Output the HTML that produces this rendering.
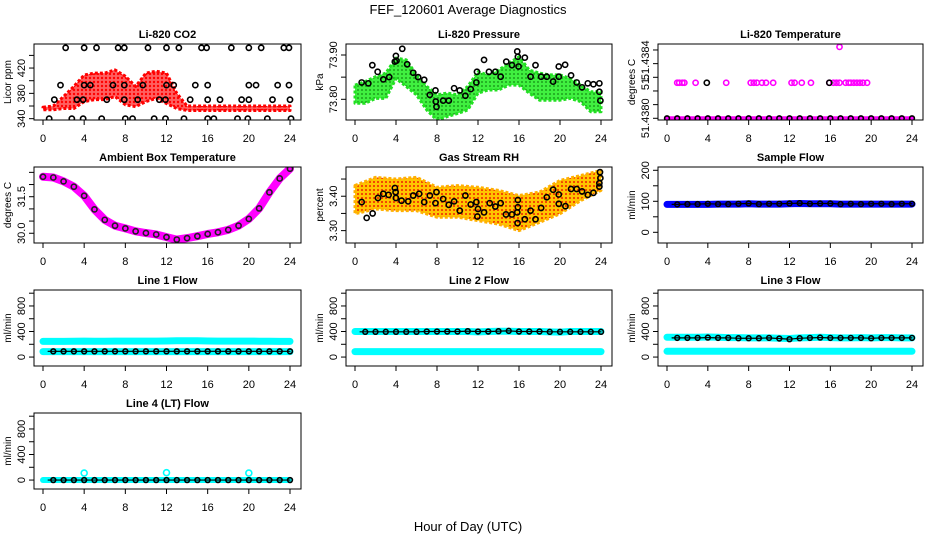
<!DOCTYPE html>
<html><head><meta charset="utf-8"><style>
html,body{margin:0;padding:0;background:#fff;}
svg{display:block;font-family:"Liberation Sans",sans-serif;}
</style></head><body>
<svg id="chart" width="936" height="540" viewBox="0 0 936 540" xmlns="http://www.w3.org/2000/svg">
<defs>
<pattern id="pat-red" width="4" height="4" patternUnits="userSpaceOnUse"><rect width="4" height="4" fill="#ff6060"/><circle cx="2" cy="2" r="1.2" fill="#ff0000"/></pattern>
<pattern id="pat-green" width="4" height="4" patternUnits="userSpaceOnUse"><rect width="4" height="4" fill="#40f040"/><circle cx="2" cy="2" r="0.9" fill="#118811"/></pattern>
<pattern id="pat-orange" width="4" height="4" patternUnits="userSpaceOnUse"><rect width="4" height="4" fill="#ffc400"/><circle cx="2" cy="2" r="1" fill="#f02000"/></pattern>
</defs>
<text x="468" y="14" text-anchor="middle" font-size="13">FEF_120601  Average Diagnostics</text>
<text x="468" y="531" text-anchor="middle" font-size="13">Hour of Day (UTC)</text>
</svg>
<script>
// ---------- data ----------
const hours25 = [0,1,2,3,4,5,6,7,8,9,10,11,12,13,14,15,16,17,18,19,20,21,22,23,24];
const co2BandLo = [354,354,356,356,367,370,370,375,362,359,367,372,364,356,353,353,353,353,353,353,353,353,353,353,353];
const co2BandHi = [358,360,375,391,409,412,412,417,407,391,412,415,412,380,360,360,360,360,360,360,360,360,360,360,360];
const co2BlackHours = [2.2,4.0,5.2,7.3,7.9,10.2,12.0,13.2,15.4,15.9,18.3,20.0,21.2,23.4,23.9, 1.7,4.0,4.6,6.8,7.9,9.7,12.0,12.7,14.8,16.0,20.0,20.7,22.8,23.9, 1.1,3.3,3.9,6.2,7.9,9.2,11.3,11.9,14.3,16.0,17.2,19.3,20.0,22.3,24.0, 0.6,2.8,3.9,5.7,8.0,8.7,10.8,11.9,13.7,16.0,16.6,18.9,19.9,21.8,24.1];
const co2BlackVals = [452,452,452,452,452,452,452,452,452,452,452,452,452,452,452, 393,393,393,393,393,393,393,393,393,393,393,393,393,393, 370,370,370,370,370,370,370,370,370,370,370,370,370,370,370, 340,340,340,340,340,340,340,340,340,340,340,340,340,340,340];

const presBandLo = [73.791,73.791,73.802,73.802,73.847,73.829,73.810,73.776,73.753,73.761,73.768,73.776,73.814,73.821,73.821,73.832,73.832,73.814,73.798,73.798,73.798,73.802,73.795,73.772,73.772];
const presBandHi = [73.832,73.840,73.851,73.859,73.893,73.889,73.855,73.829,73.810,73.814,73.810,73.829,73.862,73.855,73.866,73.881,73.896,73.866,73.859,73.855,73.855,73.847,73.832,73.817,73.817];
const presBlackHours = [0.65,1.30,1.69,2.21,2.76,3.34,3.89,3.99,4.05,4.61,5.09,5.68,6.16,6.75,7.30,7.85,7.88,7.95,8.60,9.15,9.67,10.22,10.77,11.29,11.84,11.90,12.59,13.07,13.69,14.21,14.76,15.31,15.83,15.89,15.96,16.57,17.13,17.61,18.16,18.71,19.33,19.88,19.88,20.5,21.08,21.63,22.15,22.71,23.26,23.84,23.84,23.94];
const presBlackVals = [73.838,73.836,73.877,73.862,73.845,73.850,73.885,73.898,73.887,73.914,73.879,73.860,73.850,73.844,73.810,73.820,73.795,73.783,73.797,73.797,73.825,73.820,73.808,73.823,73.838,73.862,73.889,73.862,73.862,73.851,73.885,73.877,73.908,73.896,73.874,73.894,73.851,73.877,73.851,73.851,73.840,73.874,73.851,73.878,73.854,73.838,73.827,73.836,73.834,73.836,73.817,73.797];

const tempMidHours = [1.0,1.2,1.5,1.7,2.8,5.8,8.2,8.5,8.8,9.3,9.7,10.4,12.2,12.5,13.2,14.1,15.9,16.3,16.6,16.9,17.5,17.8,18.0,18.3,18.6,18.9,19.2,19.6];
const tempMidVal = 51.438208;
const tempLowVal = 51.43800;
const tempTopHours = [16.9];
const tempTopVals = [51.438418];
const tempBlackMidHours = [3.9,15.9];

const ambientVals = [32.32,32.29,32.13,31.91,31.54,30.98,30.55,30.31,30.20,30.08,30.01,29.95,29.84,29.74,29.80,29.88,29.97,30.04,30.14,30.31,30.59,31.02,31.68,32.25,32.65];

const rhBandHours = [0,2,4,6,8,10,12,14,16,18,20,22,24];
const rhBandLo = [3.349,3.363,3.358,3.358,3.339,3.339,3.329,3.319,3.300,3.324,3.349,3.387,3.417];
const rhBandHi = [3.431,3.455,3.450,3.455,3.426,3.431,3.426,3.417,3.402,3.412,3.446,3.460,3.475];
const rhBlackHours = [0.65,1.14,1.72,2.24,2.76,3.28,3.89,3.96,3.99,4.54,5.19,5.68,6.26,6.75,7.30,7.85,7.95,8.60,9.15,9.67,10.22,10.77,11.29,11.84,11.94,12.0,12.59,13.14,13.69,14.21,14.73,15.31,15.83,15.89,15.89,15.86,16.57,17.13,17.61,18.16,18.71,19.33,19.88,19.88,20.53,21.08,21.63,22.15,22.71,23.26,23.84,23.84,23.94,23.9];
const rhBlackVals = [3.383,3.337,3.350,3.395,3.407,3.404,3.424,3.412,3.395,3.387,3.385,3.402,3.407,3.383,3.402,3.380,3.412,3.392,3.375,3.385,3.358,3.402,3.376,3.383,3.341,3.363,3.353,3.380,3.370,3.380,3.347,3.347,3.353,3.368,3.389,3.322,3.333,3.358,3.333,3.366,3.397,3.419,3.405,3.378,3.371,3.421,3.421,3.414,3.404,3.410,3.428,3.438,3.453,3.470];

const sampleBlue = [90,90,90,90,90,91,91,91,92,91,91,91,92,93,92,92,92,91,91,91,91,91,91,91,91];
const sampleBlack = [90,90,91,91,92,91,91,92,93,91,92,92,93,94,92,93,93,91,92,91,92,92,91,92,92];

const line1CyanHi = [245,245,245,248,250,248,248,250,250,250,250,250,252,255,255,255,252,250,250,250,250,248,248,245,245];
const line1CyanLo = [85,85,85,85,85,85,85,85,85,85,85,85,85,85,85,85,85,85,85,85,85,85,85,85,85];
const line1Black = [90,90,90,90,90,90,90,90,90,90,90,90,90,90,90,90,90,90,90,90,90,90,90,90,90];

const line2CyanHi = [400,400,400,400,400,400,400,400,400,400,400,400,395,400,405,405,400,400,400,395,390,400,400,400,400];
const line2CyanLo = [85,85,85,85,85,85,85,85,85,85,85,85,85,85,85,85,85,85,85,85,85,85,85,85,85];
const line2Black = [395,395,395,395,395,395,395,400,400,400,400,405,400,400,405,410,400,400,400,395,395,395,395,395,395];

const line3CyanHi = [310,310,310,310,315,310,305,305,300,300,300,295,290,300,305,310,305,300,300,305,300,305,305,300,300];
const line3CyanLo = [90,90,90,90,90,90,90,90,90,90,90,90,90,90,90,90,90,90,90,90,90,90,90,90,90];
const line3Black = [300,300,300,300,305,300,300,295,295,295,300,290,280,295,300,305,300,300,300,300,295,300,300,300,300];

const line4CyanHours = [4.0,12.0,20.0];
const line4CyanSpikes = [110,115,110];
const line4Cyan = [0,0,0,0,0,0,0,0,0,0,0,0,0,0,0,0,0,0,0,0,0,0,0,0,0];
const line4Black = [0,0,0,0,0,0,0,0,0,0,0,0,0,0,0,0,0,0,0,0,0,0,0,0,0];

const xTicks = [0,4,8,12,16,20,24];

// ---------- drawing ----------
const NS = "http://www.w3.org/2000/svg";
const svg = document.getElementById('chart');
const colLeft = [34,346,658], colW = [267,266,265];
const rowTop = [44,167,290,413], rowH = 76;

function mk(tag, attrs, parent){
  const e = document.createElementNS(NS, tag);
  for (const k in attrs) e.setAttribute(k, attrs[k]);
  (parent||svg).appendChild(e);
  return e;
}

function panel(col,row,name,title,ylab,ymin,ymax,ticks,labels){
  const g = mk('g',{});
  
  
  const L = colLeft[col], T = rowTop[row], W = colW[col], H = rowH;
  const x0 = L+9, x24 = L+W-11;
  const sx = h => x0 + h*(x24-x0)/24;
  const sy = v => T + H - (v-ymin)/(ymax-ymin)*H;
  const clip = 'clip'+col+row;
  const cp = mk('clipPath',{id:clip},g); mk('rect',{x:L,y:T,width:W,height:H},cp);
  const plot = mk('g',{'clip-path':'url(#'+clip+')'},g);
  const frame = mk('rect',{x:L,y:T,width:W,height:H,fill:'none',stroke:'#000','stroke-width':1},g);
  
  
  const t = mk('text',{x:L+W/2,y:T-6,'text-anchor':'middle','font-size':11,'font-weight':'bold'},g);
  t.textContent = title;
  
  
  const yl = mk('text',{transform:`translate(${L-23},${T+H/2}) rotate(-90)`,'text-anchor':'middle','font-size':10},g);
  yl.textContent = ylab;
  
  
  xTicks.forEach(h=>{
    const x = sx(h);
    mk('line',{x1:x,x2:x,y1:T+H,y2:T+H+5,stroke:'#000'},g);
    const tl = mk('text',{x:x,y:T+H+22,'text-anchor':'middle','font-size':11},g);
    tl.textContent = h;
    
    
  });
  ticks.forEach(v=>{
    const y = sy(v);
    mk('line',{x1:L,x2:L-5,y1:y,y2:y,stroke:'#000'},g);
  });
  labels.forEach(([v,s])=>{
    const y = sy(v);
    const tl = mk('text',{transform:`translate(${L-9},${y}) rotate(-90)`,'text-anchor':'middle','font-size':11},g);
    tl.textContent = s;
    
    
  });
  return {sx,sy,plot};
}
function circles(p,hs,vs,color,name,r){
  hs.forEach((h,i)=>{
    const c = mk('circle',{cx:p.sx(h),cy:p.sy(vs[i]),r:r||2.6,fill:'none',stroke:color,'stroke-width':1.6},p.plot);
    
    
  });
}
function band(p,hs,lo,hi,fill,edge,name){
  let d = hs.map((h,i)=>(i?'L':'M')+p.sx(h)+','+p.sy(hi[i])).join('');
  for(let i=hs.length-1;i>=0;i--) d += 'L'+p.sx(hs[i])+','+p.sy(lo[i]);
  const e = mk('path',{d:d+'Z',fill:fill,stroke:edge,'stroke-width':3,'stroke-linejoin':'round','stroke-dasharray':'3 2'},p.plot);
  
  
}
function thick(p,hs,vs,color,w,name){
  const d = hs.map((h,i)=>(i?'L':'M')+p.sx(h)+','+p.sy(vs[i])).join('');
  const e = mk('path',{d,fill:'none',stroke:color,'stroke-width':w,'stroke-linecap':'round','stroke-linejoin':'round'},p.plot);
  
  
}
function blackRow(p,vs,name){
  const hs=[], v2=[];
  vs.forEach((v,i)=>{ if(i>0){hs.push(i-0.5); v2.push((vs[i-1]+v)/2);} hs.push(i); v2.push(v); });
  thick(p,hs.filter(h=>h>=0.5),v2.slice(1),'#000',1.2,name+'-trace');
  circles(p,hours25.slice(1),vs.slice(1),'#000',name,2.4);
}

// Li-820 CO2
let p = panel(0,0,'co2-panel','Li-820 CO2','Licor ppm',337.9,458,[340,360,380,400,420,440],[[340,'340'],[380,'380'],[420,'420']]);
band(p,hours25,co2BandLo,co2BandHi,'url(#pat-red)','#ff0000','co2-red-band');
circles(p,co2BlackHours,co2BlackVals,'#000','co2-avg-point');

// Pressure
p = panel(1,0,'pressure-panel','Li-820 Pressure','kPa',73.7533,73.9248,[73.80,73.85,73.90],[[73.80,'73.80'],[73.90,'73.90']]);
band(p,hours25,presBandLo,presBandHi,'url(#pat-green)','#22e022','pressure-green-band');
circles(p,presBlackHours,presBlackVals,'#000','pressure-avg-point');

// Temperature
p = panel(2,0,'temperature-panel','Li-820 Temperature','degrees C',51.43799,51.438435,[51.4380,51.43808,51.43816,51.43824,51.43832,51.4384],[[51.4380,'51.4380'],[51.43821,'51.'],[51.43834,'51.4384']]);
thick(p,[0,24],[tempLowVal,tempLowVal],'#ff00ff',4,'temperature-magenta-low');
circles(p,hours25,hours25.map(()=>tempLowVal),'#000','temperature-avg-low',2.4);
circles(p,tempMidHours,tempMidHours.map(()=>tempMidVal),'#ff00ff','temperature-magenta-mid');
circles(p,tempBlackMidHours,tempBlackMidHours.map(()=>tempMidVal),'#000','temperature-avg-mid');
circles(p,tempTopHours,tempTopVals,'#ff00ff','temperature-magenta-top');

// Ambient
p = panel(0,1,'ambient-panel','Ambient Box Temperature','degrees C',29.60,32.72,[30,30.5,31,31.5,32,32.5],[[30,'30.0'],[31.5,'31.5']]);
thick(p,hours25,ambientVals,'#ff00ff',8,'ambient-magenta-band');
circles(p,hours25,ambientVals,'#222','ambient-avg-point',2.6);

// RH
p = panel(1,1,'rh-panel','Gas Stream RH','percent',3.264,3.485,[3.30,3.35,3.40,3.45],[[3.30,'3.30'],[3.40,'3.40']]);
band(p,rhBandHours,rhBandLo,rhBandHi,'url(#pat-orange)','#ffb000','rh-orange-band');
circles(p,rhBlackHours,rhBlackVals,'#000','rh-avg-point');

// Sample flow
p = panel(2,1,'sample-flow-panel','Sample Flow','ml/min',-34.5,210.6,[0,50,100,150,200],[[0,'0'],[100,'100'],[200,'200']]);
thick(p,hours25,sampleBlue,'#0000ff',7,'sample-flow-blue');
blackRow(p,sampleBlack,'sample-flow-avg');

const lt = [0,200,400,600,800,1000], ll = [[0,'0'],[400,'400'],[800,'800']];
// Line 1
p = panel(0,2,'line1-panel','Line 1 Flow','ml/min',-140,1050,lt,ll);
thick(p,hours25,line1CyanHi,'#00ffff',7,'line1-cyan-high');
thick(p,hours25,line1CyanLo,'#00ffff',7,'line1-cyan-low');
blackRow(p,line1Black,'line1-avg');
// Line 2
p = panel(1,2,'line2-panel','Line 2 Flow','ml/min',-140,1050,lt,ll);
thick(p,hours25,line2CyanHi,'#00ffff',7,'line2-cyan-high');
thick(p,hours25,line2CyanLo,'#00ffff',7,'line2-cyan-low');
blackRow(p,line2Black,'line2-avg');
// Line 3
p = panel(2,2,'line3-panel','Line 3 Flow','ml/min',-140,1050,lt,ll);
thick(p,hours25,line3CyanHi,'#00ffff',7,'line3-cyan-high');
thick(p,hours25,line3CyanLo,'#00ffff',7,'line3-cyan-low');
blackRow(p,line3Black,'line3-avg');
// Line 4
p = panel(0,3,'line4-panel','Line 4 (LT) Flow','ml/min',-140,1050,lt,ll);
thick(p,hours25,line4Cyan,'#00ffff',6,'line4-cyan');
circles(p,line4CyanHours,line4CyanSpikes,'#00ffff','line4-cyan-spike',3);
blackRow(p,line4Black,'line4-avg');
</script>
</body></html>
